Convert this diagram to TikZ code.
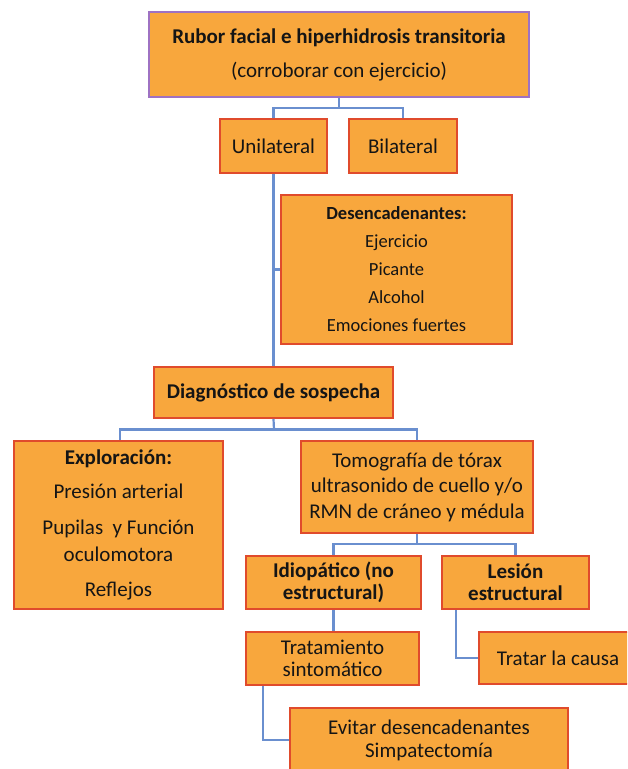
\documentclass[tikz,border=0pt]{standalone}
\usepackage{fontspec}
\setmainfont{Carlito}
\usetikzlibrary{calc}
\definecolor{boxfill}{HTML}{F8A73D}
\definecolor{boxline}{HTML}{E04B2C}
\definecolor{topline}{HTML}{9E72C3}
\definecolor{conncol}{HTML}{6A8FCF}
\definecolor{txt}{HTML}{151515}
\tikzset{
  box/.style={draw=boxline, fill=boxfill, line width=1.8pt, rectangle, inner sep=0pt,
    align=center, text=txt},
  conn/.style={draw=conncol, line width=2.2pt},
  fs/.style={font=\fontsize{21}{#1}\selectfont}
}
\begin{document}
\begin{tikzpicture}[x=1pt,y=-1pt]
\clip (0,0) rectangle (627,769);
\fill[white] (0,0) rectangle (627,769);
% junctions
\coordinate (j1) at (339,108);
\coordinate (j2) at (274,429.5);
\coordinate (j3) at (417,544);
\node[box, draw=topline, minimum width=380pt, minimum height=85pt, fs=34] (top) at (339,54.5)
  {\textbf{Rubor facial e hiperhidrosis transitoria}\\(corroborar con ejercicio)};
\node[box, minimum width=107pt, minimum height=54pt, fs=22] (uni) at (273.5,146) {Unilateral};
\node[box, minimum width=108pt, minimum height=54pt, fs=22] (bil) at (403,146) {Bilateral};
\node[box, minimum width=231pt, minimum height=149pt, font=\fontsize{18.5}{28}\selectfont] (des) at (396.5,269.5)
  {\textbf{Desencadenantes:}\\Ejercicio\\Picante\\Alcohol\\Emociones fuertes};
\node[box, minimum width=239pt, minimum height=51pt, fs=22] (diag) at (273.5,392.5) {\textbf{Diagnóstico de sospecha}};
\node[box, minimum width=209pt, minimum height=168pt, fs=27] (exp) at (118.5,525)
  {\textbf{Exploración:}\\[7pt]Presión arterial\\[9pt]Pupilas\ \ y Función\\oculomotora\\[8pt]Reflejos};
\node[box, minimum width=232pt, minimum height=92pt, fs=25.5] (tom) at (417,487)
  {Tomografía de tórax\\ultrasonido de cuello y/o\\RMN de cráneo y médula};
\node[box, minimum width=175pt, minimum height=53pt, fs=22] (idio) at (333.5,582.5)
  {\textbf{Idiopático (no}\\\textbf{estructural)}};
\node[box, minimum width=147pt, minimum height=53pt, fs=22] (les) at (515.5,582.5)
  {\textbf{Lesión}\\\textbf{estructural}};
\node[box, minimum width=173pt, minimum height=53pt, fs=22] (trat) at (332.5,658.5)
  {Tratamiento\\sintomático};
\node[box, minimum width=158pt, minimum height=52pt, fs=22] (caus) at (558,658) {Tratar la causa};
\node[box, minimum width=278pt, minimum height=64pt, fs=23] (evit) at (429,740)
  {Evitar desencadenantes\\Simpatectomía};
% connectors
\draw[conn] (top.south) -- (j1);
\draw[conn] (j1) -| (uni.north);
\draw[conn] (j1) -| (bil.north);
\draw[conn] (uni.south) -- (diag.north);
\draw[conn] (uni.south |- des.west) -- (des.west);
\draw[conn] (diag.south) -- (j2);
\draw[conn] (j2) -| ($(exp.north)+(1.5,0)$);
\draw[conn] (j2) -| (tom.north);
\draw[conn] (tom.south) -- (j3);
\draw[conn] (j3) -| (idio.north);
\draw[conn] (j3) -| (les.north);
\draw[conn] (idio.south) -- (idio.south |- trat.north);
\draw[conn] ($(les.south west)+(15,0)$) |- (caus.west);
\draw[conn] ($(trat.south west)+(18,0)$) |- (evit.west);
\end{tikzpicture}
\end{document}
